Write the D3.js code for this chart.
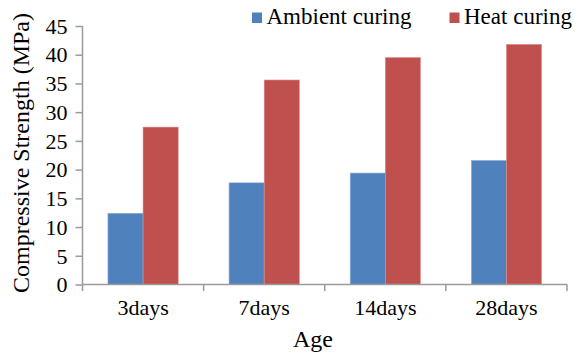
<!DOCTYPE html>
<html>
<head>
<meta charset="utf-8">
<script src="https://cdn.jsdelivr.net/npm/d3@7/dist/d3.min.js"></script>
<style>
  html, body { margin: 0; padding: 0; background: #fff; }
  svg { display: block; }
</style>
</head>
<body>
<svg id="chart" width="580" height="355"></svg>
<script>
const categories = ["3days", "7days", "14days", "28days"];
const seriesNames = ["Ambient curing", "Heat curing"];
const ambient = [12.4, 17.7, 19.4, 21.6];
const heat = [27.4, 35.6, 39.5, 41.8];
const yTicks = [0, 5, 10, 15, 20, 25, 30, 35, 40, 45];
const colors = ["#4F81BD", "#C0504D"];

const FONT = "Liberation Serif";

// make sure the serif face is resolved before any text is laid out
const probe = document.createElement("canvas").getContext("2d");
probe.font = `24px "${FONT}"`;
probe.measureText("Compressive Strength (MPa) Age 3days 45");

const x0 = 82.5, x1 = 567;
const yTop = 26, yBot = 284.5;
const axisColor = "#9A9A9A";

const svg = d3.select("#chart");

const x = d3.scaleBand().domain(categories).range([x0, x1]);
// each cluster takes the middle 58% of its category slot
const groupW = x.bandwidth() * 0.58;
const inner = d3.scaleBand().domain(seriesNames)
  .range([(x.bandwidth() - groupW) / 2, (x.bandwidth() + groupW) / 2]);
const y = d3.scaleLinear().domain([0, 45]).range([yBot, yTop]);

const rows = categories.map((c, i) => ({ cat: c, vals: [ambient[i], heat[i]] }));

// bars
const groups = svg.append("g").selectAll("g").data(rows).enter().append("g")
  .attr("transform", d => `translate(${x(d.cat)},0)`);
groups.selectAll("rect").data(d => d.vals.map((v, j) => ({ v, j }))).enter().append("rect")
  .attr("x", d => inner(seriesNames[d.j]))
  .attr("y", d => y(d.v))
  .attr("width", inner.bandwidth())
  .attr("height", d => y(0) - y(d.v))
  .attr("fill", d => colors[d.j])
  .attr("stroke", d => d.j === 0 ? "#93B1D6" : "#DA8F8D")
  .attr("stroke-width", 0.6);

// y axis
const yAxis = d3.axisLeft(y).tickValues(yTicks).tickSize(7).tickPadding(8).tickFormat(d3.format("d"));
const ya = svg.append("g").attr("transform", `translate(${x0},0)`).call(yAxis);
ya.attr("font-family", FONT).attr("font-size", 22);
ya.select(".domain").attr("stroke", axisColor).attr("stroke-width", 1.5).attr("d", `M0,${yTop}V${yBot}`);
ya.selectAll(".tick line").attr("stroke", axisColor).attr("stroke-width", 1.5);
ya.selectAll(".tick text").attr("fill", "#000").attr("dy", "0.33em");

// x axis
const xa = svg.append("g").attr("transform", `translate(0,${yBot})`);
xa.append("line").attr("x1", x0).attr("x2", x1).attr("stroke", axisColor).attr("stroke-width", 1.5);
const edges = categories.map(c => x(c)).concat([x1]);
xa.selectAll("line.tk").data(edges).enter().append("line").attr("class", "tk")
  .attr("x1", d => d).attr("x2", d => d).attr("y1", 0).attr("y2", 6.5)
  .attr("stroke", axisColor).attr("stroke-width", 1.5);
xa.selectAll("text").data(categories).enter().append("text")
  .attr("x", d => x(d) + x.bandwidth() / 2).attr("y", 315 - yBot)
  .attr("text-anchor", "middle").attr("font-family", FONT).attr("font-size", 22)
  .text(d => d);

// axis titles
svg.append("text").attr("x", 313).attr("y", 347).attr("text-anchor", "middle")
  .attr("font-family", FONT).attr("font-size", 24).text("Age");
svg.append("text").attr("transform", `translate(29,153) rotate(-90)`)
  .attr("text-anchor", "middle").attr("font-family", FONT).attr("font-size", 24)
  .text("Compressive Strength (MPa)");

// legend
const legendX = [252, 449.5];
const legend = svg.append("g").selectAll("g").data(seriesNames).enter().append("g")
  .attr("transform", (d, j) => `translate(${legendX[j]},0)`);
legend.append("rect").attr("y", 12.5).attr("width", 10).attr("height", 10.5).attr("fill", (d, j) => colors[j]);
legend.append("text").attr("x", 14.5).attr("y", 24).attr("font-family", FONT).attr("font-size", 23).text(d => d);
</script>
</body>
</html>
